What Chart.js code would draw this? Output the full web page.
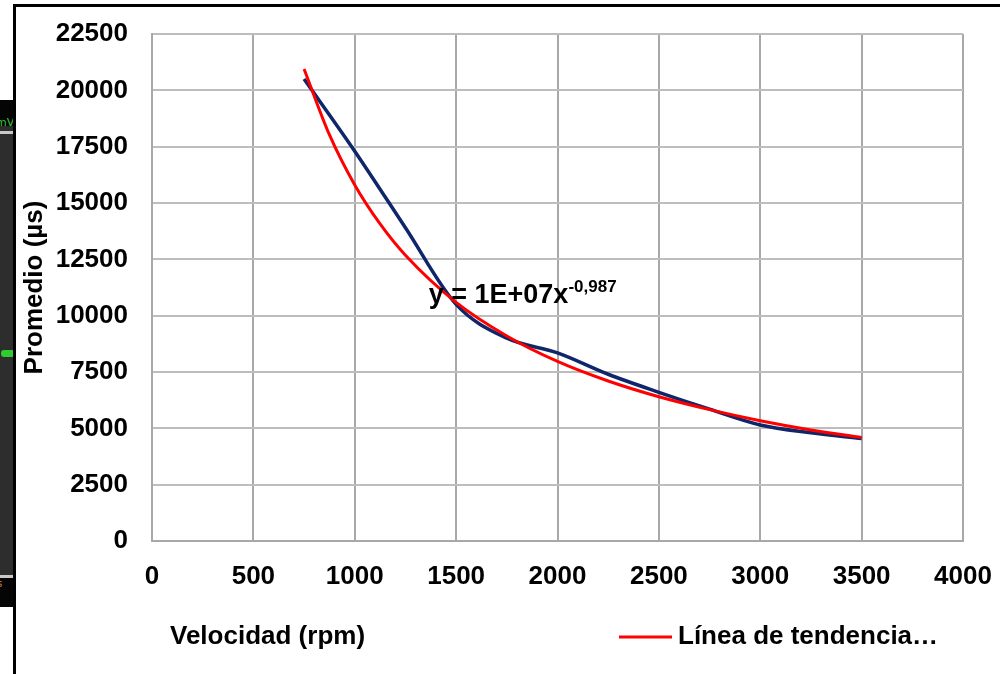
<!DOCTYPE html>
<html>
<head>
<meta charset="utf-8">
<script src="https://cdn.jsdelivr.net/npm/chart.js@4.4.1/dist/chart.umd.min.js"></script>
<style>
  html, body { margin: 0; padding: 0; background: #fff; overflow: hidden; }
  #wrap { position: relative; width: 1000px; height: 674px; }
  #frame { position: absolute; left: 13px; top: 4px; width: 1000px; height: 700px; border: 3px solid #000; }
  #side { position: absolute; left: 0; top: 100px; width: 13px; height: 507px; background: #2d2d2d; overflow: hidden; }
  #side .band { position: absolute; left: 0; width: 13px; background: #050505; }
  #side .rule { position: absolute; left: 0; width: 13px; height: 3px; background: #c8c8c8; }
  #side .mark { position: absolute; left: 1px; top: 250px; width: 12px; height: 7px; background: #2ecc2e; border-radius: 3px 0 0 3px; }
  #side .unit { position: absolute; left: -4px; top: 16px; font: 11px "DejaVu Sans", sans-serif; color: #38c838; }
  #side .tag { position: absolute; left: -3px; top: 478px; font: 10px "DejaVu Sans", sans-serif; color: #c8874a; }
  canvas { position: absolute; left: 0; top: 0; }
</style>
</head>
<body>
<div id="wrap">
  <div id="side">
    <div class="band" style="top:0;height:26px"></div>
    <span class="unit">mV</span>
    <div class="rule" style="top:31px"></div>
    <div class="mark"></div>
    <div class="rule" style="top:475px"></div>
    <div class="band" style="top:478px;height:29px"></div>
    <span class="tag">s</span>
  </div>
  <div id="frame"></div>
  <canvas id="chart" width="1000" height="674"></canvas>
</div>
<script>
// speed (rpm) and mean period (µs)
const rpm = [750, 1000, 1250, 1500, 1750, 2000, 2250, 2500, 2750, 3000, 3250, 3500];
const promedio = [20500, 17300, 13900, 10500, 9000, 8350, 7400, 6600, 5850, 5150, 4800, 4550];
// power trendline, sampled a bit denser where it bends
const rpmTrend = [750, 875, 1000, 1125, 1250, 1500, 1750, 2000, 2250, 2500, 2750, 3000, 3250, 3500];
const tendencia = [20950, 18030, 15800, 14070, 12680, 10590, 9100, 7970, 7100, 6400, 5830, 5340, 4930, 4590];

const xTicks = [0, 500, 1000, 1500, 2000, 2500, 3000, 3500, 4000];
const yTicks = [0, 2500, 5000, 7500, 10000, 12500, 15000, 17500, 20000, 22500];

const xTitle = 'Velocidad (rpm)';
const yTitle = 'Promedio (µs)';
const trendLabel = 'Línea de tendencia…';
const eqMain = 'y = 1E+07x';
const eqExp = '-0,987';
const eqAt = [1365, 10560];

const FONT = '"Liberation Sans", Arial, sans-serif';

function toPoints(xs, ys) {
  return xs.map((x, i) => ({ x: x, y: ys[i] }));
}

// bottom row (x caption + trendline key) and the trendline equation
const annotate = {
  id: 'annotate',
  afterDraw(chart) {
    const c = chart.ctx;
    const xs = chart.scales.x, ys = chart.scales.y;
    const rowY = 637;
    c.save();
    c.fillStyle = '#000';
    c.font = 'bold 26px ' + FONT;
    c.textBaseline = 'middle';
    c.textAlign = 'left';
    c.fillText(xTitle, 170, rowY);

    const trend = chart.data.datasets[0];
    c.strokeStyle = trend.borderColor;
    c.lineWidth = 3;
    c.beginPath();
    c.moveTo(619, rowY);
    c.lineTo(672, rowY);
    c.stroke();
    c.fillText(trend.label, 678, rowY);

    const ex = xs.getPixelForValue(eqAt[0]);
    const ey = ys.getPixelForValue(eqAt[1]);
    c.textBaseline = 'alphabetic';
    c.font = 'bold 27px ' + FONT;
    c.fillText(eqMain, ex, ey);
    const w = c.measureText(eqMain).width;
    c.font = 'bold 17px ' + FONT;
    c.fillText(eqExp, ex + w, ey - 11);
    c.restore();
  }
};

const tickFont = { family: FONT, size: 26, weight: 'bold' };

new Chart(document.getElementById('chart'), {
  type: 'line',
  data: {
    datasets: [
      {
        label: trendLabel,
        data: toPoints(rpmTrend, tendencia),
        borderColor: '#ff0000',
        backgroundColor: '#ff0000',
        borderWidth: 3,
        pointRadius: 0,
        cubicInterpolationMode: 'monotone'
      },
      {
        label: 'Promedio',
        data: toPoints(rpm, promedio),
        borderColor: '#10266a',
        backgroundColor: '#10266a',
        borderWidth: 3.5,
        pointRadius: 0,
        cubicInterpolationMode: 'monotone'
      }
    ]
  },
  options: {
    responsive: false,
    animation: false,
    layout: { padding: { left: 13, right: 37, top: 34, bottom: 61 } },
    plugins: {
      tooltip: { enabled: false },
      legend: { display: false }
    },
    scales: {
      x: {
        type: 'linear',
        min: 0,
        max: 4000,
        afterBuildTicks: s => { s.ticks = xTicks.map(v => ({ value: v })); },
        afterFit: s => { s.height = 72; s.paddingLeft = 0; s.paddingRight = 0; },
        grid: { color: '#a8a8a8', lineWidth: 2, drawTicks: false },
        border: { color: '#a8a8a8', width: 2 },
        ticks: {
          padding: 20,
          color: '#000',
          font: tickFont,
          callback: v => String(v)
        }
      },
      y: {
        min: 0,
        max: 22500,
        afterBuildTicks: s => { s.ticks = yTicks.map(v => ({ value: v })); },
        afterFit: s => { s.width = 139; s.paddingTop = 0; s.paddingBottom = 0; },
        grid: { color: '#bdbdbd', lineWidth: 2, drawTicks: false },
        border: { color: '#a8a8a8', width: 2 },
        title: {
          display: true,
          text: yTitle,
          color: '#000',
          font: tickFont,
          padding: { top: 6, bottom: 0 }
        },
        ticks: {
          padding: 24,
          color: '#000',
          font: tickFont,
          callback: v => String(v)
        }
      }
    }
  },
  plugins: [annotate]
});
</script>
</body>
</html>
